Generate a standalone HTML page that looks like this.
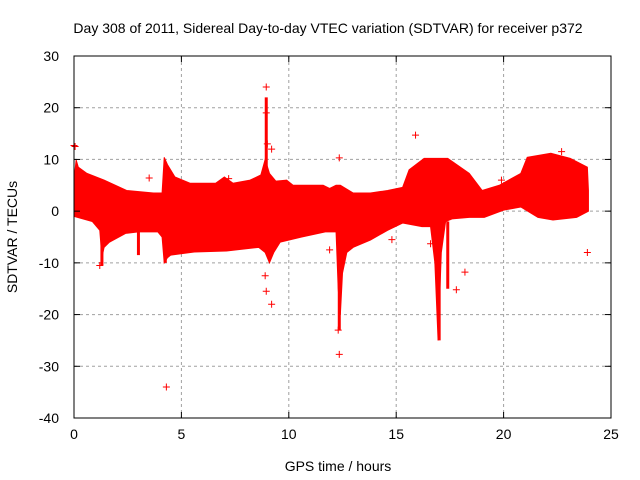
<!DOCTYPE html>
<html><head><meta charset="utf-8"><style>
body{margin:0;background:#fff}
svg{display:block;font-family:"Liberation Sans",Arial,sans-serif}
</style></head><body>
<svg id="chart" width="640" height="480" viewBox="0 0 640 480">
<rect width="640" height="480" fill="#fff"/>
<text x="328" y="33" font-size="14" text-anchor="middle">Day 308 of 2011, Sidereal Day-to-day VTEC variation (SDTVAR) for receiver p372</text>
<g id="grid"></g>
<g id="data"></g>
<g id="axes"></g>
<text x="338" y="471" font-size="14" text-anchor="middle">GPS time / hours</text>
<text transform="translate(17,237) rotate(-90)" font-size="14" text-anchor="middle">SDTVAR / TECUs</text>
</svg>
<script>
const xTicks=[0,5,10,15,20,25];
const yTicks=[30,20,10,0,-10,-20,-30,-40];
const upperHours=[0,0.1,0.2,0.6,1.4,2.45,3.7,4.1,4.2,4.35,4.7,5.4,6.6,7.0,7.4,8.2,8.7,8.9,9.1,9.4,9.9,10.2,11.6,11.9,12.2,12.4,13.0,13.8,14.6,15.3,15.6,16.3,17.4,18.4,19.0,19.8,20.8,21.1,22.2,23.1,23.9,23.95];
const upperVals=[6,9.9,8.5,7.3,6,4,3.5,3.5,10.4,9,6.6,5.4,5.4,6.6,5.4,6,7,10,7.3,5.8,6,5,5,4.4,5,5,3.5,3.5,4,4.6,8,10.2,10.2,7.3,4,5,7.3,10.4,11.2,10.2,8.5,4];
const lowerHours=[0,0.85,1.2,1.3,1.4,1.65,2.4,3.0,3.9,4.1,4.2,4.35,4.5,5.6,7.1,8.6,8.9,9.1,9.3,9.6,10.6,11.7,12.2,12.3,12.4,12.5,12.7,13.0,13.8,14.6,15.3,16.2,16.6,16.8,16.95,17.1,17.3,17.6,18.4,19.1,20.0,20.8,21.6,22.3,23.4,23.95];
const lowerVals=[-1,-2,-3.7,-9,-7,-6,-4.3,-4,-4,-5,-10,-9,-8.5,-7.9,-7.7,-7,-8,-10,-8,-6,-5,-4,-4,-15,-20,-12,-8,-7,-5.6,-3.7,-2.3,-3,-3,-10,-25,-8,-2,-1.5,-1.2,-1.2,0.2,0.8,-1.2,-1.7,-1.2,0];
const spikeHours=[8.95,12.35,17.0,17.4,1.3,3.0,4.25];
const spikeTops=[22,-4,-2,-2,-5,-3,-5];
const spikeBottoms=[6,-23,-25,-15,-10.5,-8.5,-10];
const outHours=[0,3.5,4.3,8.95,8.95,9.0,9.2,8.9,8.95,9.2,12.35,12.35,11.9,15.9,14.8,16.6,18.2,17.8,23.9,22.7,7.2,1.2,12.3,19.9,0.05];
const outVals=[12.7,6.4,-34,24,19,13,12,-12.5,-15.5,-18,-27.7,10.3,-7.5,14.7,-5.5,-6.3,-11.8,-15.2,-8,11.5,6.3,-10.5,-23,6,12.5];

const X0=74,X1=611,Y0=418,Y1=56;
const sx=h=>X0+(h-0)/(25-0)*(X1-X0);
const sy=v=>Y0-(v+40)/(70)*(Y0-Y1);
const NS='http://www.w3.org/2000/svg';
function mk(tag,attrs,parent){const e=document.createElementNS(NS,tag);for(const k in attrs)e.setAttribute(k,attrs[k]);parent.appendChild(e);return e;}
const grid=document.getElementById('grid'),axes=document.getElementById('axes'),data=document.getElementById('data');
xTicks.forEach(t=>{
 if(t>0&&t<25){const l=mk('line',{x1:sx(t),x2:sx(t),y1:Y1,y2:Y0,stroke:'#a0a0a0','stroke-dasharray':'3,3'},grid);
 
 }
 mk('line',{x1:sx(t),x2:sx(t),y1:Y0,y2:Y0-6,stroke:'#000'},axes);
 mk('line',{x1:sx(t),x2:sx(t),y1:Y1,y2:Y1+6,stroke:'#000'},axes);
 const tx=mk('text',{x:sx(t),y:Y0+21,'font-size':14,'text-anchor':'middle'},axes);tx.textContent=t;
 
 
});
yTicks.forEach(t=>{
 if(t>-40&&t<30){const l=mk('line',{x1:X0,x2:X1,y1:sy(t),y2:sy(t),stroke:'#a0a0a0','stroke-dasharray':'3,3'},grid);
 
 }
 mk('line',{x1:X0,x2:X0+6,y1:sy(t),y2:sy(t),stroke:'#000'},axes);
 mk('line',{x1:X1,x2:X1-6,y1:sy(t),y2:sy(t),stroke:'#000'},axes);
 const tx=mk('text',{x:X0-15,y:sy(t)+5,'font-size':14,'text-anchor':'end'},axes);tx.textContent=t;
 
 
});
const fr=mk('rect',{x:X0,y:Y1,width:X1-X0,height:Y0-Y1,fill:'none',stroke:'#000'},axes);


let pts=upperHours.map((h,i)=>sx(h)+','+sy(upperVals[i]));
for(let i=lowerHours.length-1;i>=0;i--)pts.push(sx(lowerHours[i])+','+sy(lowerVals[i]));
const band=mk('polygon',{points:pts.join(' '),fill:'#ff0000',stroke:'#ff0000'},data);


spikeHours.forEach((h,i)=>{
 const l=mk('line',{x1:sx(h),x2:sx(h),y1:sy(spikeTops[i]),y2:sy(spikeBottoms[i]),stroke:'#ff0000','stroke-width':3},data);
 
 
});
outHours.forEach((h,i)=>{
 const x=sx(h),y=sy(outVals[i]);
 const p=mk('path',{d:`M${x-3.5},${y}H${x+3.5}M${x},${y-3.5}V${y+3.5}`,stroke:'#ff0000','stroke-width':1},data);
 
 
});
</script>
</body></html>
